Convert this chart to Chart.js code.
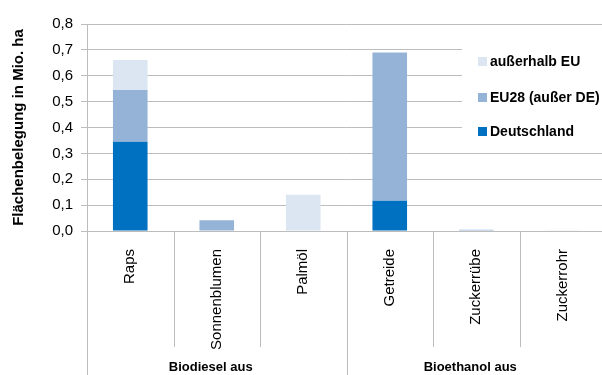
<!DOCTYPE html>
<html>
<head>
<meta charset="utf-8">
<script src="https://cdn.jsdelivr.net/npm/chart.js@4"></script>
<style>
  html, body { margin: 0; padding: 0; background: #fff; overflow: hidden; }
  #wrap { width: 602px; height: 375px; overflow: hidden; }
</style>
</head>
<body>
<div id="wrap"><canvas id="chart" width="606" height="375"></canvas></div>
<script>
const categories = ["Raps", "Sonnenblumen", "Palmöl", "Getreide", "Zuckerrübe", "Zuckerrohr"];
const groupLabels = ["Biodiesel aus", "Bioethanol aus"];
const groupSizes = [3, 3];

const deutschland = [0.345, 0, 0, 0.117, 0.002, 0];
const eu28 = [0.200, 0.042, 0, 0.573, 0.003, 0];
const ausserhalb = [0.116, 0, 0.140, 0, 0, 0.003];

const seriesNames = ["Deutschland", "EU28 (außer DE)", "außerhalb EU"];
const seriesColors = ["#0070C0", "#95B3D7", "#DCE6F2"];

const yTitle = "Flächenbelegung in Mio. ha";
const gridColor = "#bdbdbd";
const font = "'Liberation Sans', Arial, sans-serif";

// separators under the x axis, group labels, y axis line, legend box
const extras = {
    id: "extras",
    afterDatasetsDraw(chart) {
        const ctx = chart.ctx;
        const x = chart.scales.x;
        const area = chart.chartArea;
        const H = chart.height;
        const step = x.getPixelForValue(1) - x.getPixelForValue(0);

        ctx.save();
        ctx.strokeStyle = gridColor;
        ctx.lineWidth = 1;

        // y axis line down to the bottom
        ctx.beginPath();
        ctx.moveTo(Math.round(area.left) + 0.5, area.top);
        ctx.lineTo(Math.round(area.left) + 0.5, H);
        ctx.stroke();

        let start = 0;
        groupSizes.forEach((size, g) => {
            for (let i = start; i < start + size; i++) {
                const bx = Math.round(x.getPixelForValue(i) + step / 2) + 0.5;
                const last = i === start + size - 1;
                ctx.beginPath();
                ctx.moveTo(bx, area.bottom);
                ctx.lineTo(bx, last ? H : 347);
                ctx.stroke();
            }
            const cx = (x.getPixelForValue(start) + x.getPixelForValue(start + size - 1)) / 2;
            ctx.fillStyle = "#000";
            ctx.font = "bold 13px " + font;
            ctx.textAlign = "center";
            ctx.textBaseline = "middle";
            ctx.fillText(groupLabels[g], cx - 6, 367);
            start += size;
        });

        // legend
        ctx.fillStyle = "#fff";
        ctx.fillRect(462, 36, 150, 106);
        const rows = [61, 97, 131];
        ctx.font = "bold 14px " + font;
        ctx.textAlign = "left";
        ctx.textBaseline = "middle";
        for (let k = 0; k < 3; k++) {
            const d = 2 - k;
            ctx.fillStyle = seriesColors[d];
            ctx.fillRect(478, rows[k] - 4, 9, 9);
            ctx.fillStyle = "#000";
            ctx.fillText(seriesNames[d], 490, rows[k] + 1);
        }
        ctx.restore();
    }
};

new Chart(document.getElementById("chart"), {
    type: "bar",
    data: {
        labels: categories,
        datasets: [
            { label: seriesNames[0], data: deutschland, backgroundColor: seriesColors[0] },
            { label: seriesNames[1], data: eu28, backgroundColor: seriesColors[1] },
            { label: seriesNames[2], data: ausserhalb, backgroundColor: seriesColors[2] }
        ]
    },
    options: {
        responsive: false,
        animation: false,
        layout: { padding: { top: 24, right: 0, left: 0, bottom: 0 } },
        datasets: { bar: { categoryPercentage: 1, barPercentage: 0.4 } },
        plugins: { legend: { display: false }, tooltip: { enabled: false } },
        scales: {
            x: {
                stacked: true,
                grid: { display: false },
                border: { display: true, color: gridColor },
                ticks: {
                    color: "#000",
                    font: { family: font, size: 15 },
                    minRotation: 90,
                    maxRotation: 90,
                    padding: 10,
                    autoSkip: false
                },
                afterFit(s) { s.height = 144; }
            },
            y: {
                stacked: true,
                min: 0,
                max: 0.8,
                ticks: {
                    stepSize: 0.1,
                    color: "#000",
                    font: { family: font, size: 15 },
                    padding: 8,
                    callback: v => v.toFixed(1).replace(".", ",")
                },
                grid: { color: gridColor, tickLength: 6, lineWidth: 1 },
                border: { display: false },
                title: {
                    display: true,
                    text: yTitle,
                    color: "#000",
                    font: { family: font, size: 15, weight: "bold" },
                    padding: { top: 10, bottom: 0 }
                },
                afterFit(s) { s.width = 87; }
            }
        }
    },
    plugins: [extras]
});
</script>
</body>
</html>
